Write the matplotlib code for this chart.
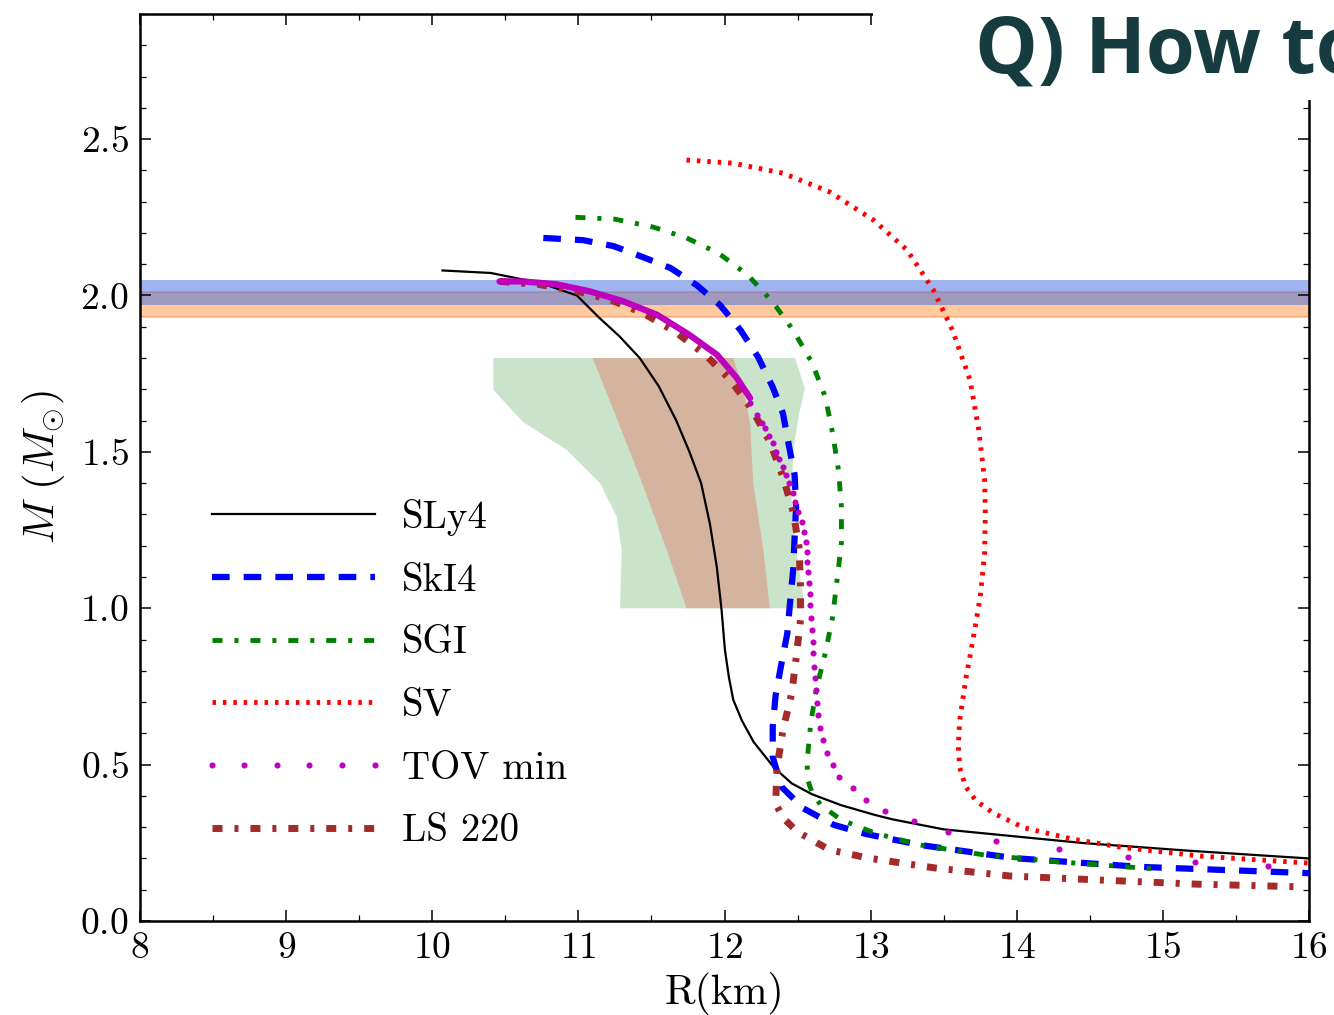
import matplotlib
matplotlib.use("Agg")
import matplotlib.pyplot as plt
from matplotlib.patches import Rectangle
from matplotlib.ticker import MultipleLocator

plt.rcParams["font.family"] = ["cmr10", "DejaVu Serif"]
plt.rcParams["mathtext.fontset"] = "cm"
plt.rcParams["axes.formatter.use_mathtext"] = True
plt.rcParams["lines.scale_dashes"] = False

# mass-radius curves, R in km, M in solar masses
sly4_r = [10.07, 10.40, 10.74, 10.99, 11.14, 11.28, 11.42, 11.55, 11.67, 11.76, 11.84,
          11.90, 11.947, 11.98, 12.003, 12.03, 12.06, 12.12, 12.20, 12.34, 12.46, 12.60,
          12.80, 13.03, 13.15, 13.5, 14.0, 14.46, 15.2, 16.0]
sly4_m = [2.08, 2.072, 2.04, 2.0, 1.93, 1.87, 1.80, 1.71, 1.60, 1.50, 1.40,
          1.27, 1.133, 0.994, 0.866, 0.78, 0.707, 0.64, 0.572, 0.49, 0.44, 0.405,
          0.37, 0.339, 0.325, 0.293, 0.27, 0.249, 0.224, 0.20]

ski4_r = [10.76, 11.03, 11.24, 11.44, 11.63, 11.81, 11.97, 12.11, 12.23, 12.33, 12.40,
          12.44, 12.48, 12.49, 12.48, 12.47, 12.45, 12.43, 12.39, 12.35, 12.33, 12.33,
          12.39, 12.54, 12.75, 12.97, 13.34, 13.98, 14.85, 16.0]
ski4_m = [2.184, 2.177, 2.158, 2.123, 2.088, 2.033, 1.969, 1.889, 1.803, 1.707, 1.623,
          1.522, 1.426, 1.325, 1.229, 1.122, 1.026, 0.92, 0.824, 0.722, 0.621, 0.525,
          0.429, 0.36, 0.307, 0.278, 0.243, 0.201, 0.173, 0.153]

sgi_r = [10.98, 11.25, 11.51, 11.74, 11.96, 12.16, 12.33, 12.47, 12.60, 12.69, 12.74,
         12.78, 12.80, 12.80, 12.77, 12.74, 12.69, 12.63, 12.59, 12.565, 12.57, 12.60,
         12.66, 12.80, 13.03, 13.34, 13.78, 14.29, 14.93]
sgi_m = [2.25, 2.244, 2.219, 2.184, 2.135, 2.065, 1.979, 1.889, 1.784, 1.675, 1.56,
         1.442, 1.324, 1.208, 1.09, 0.972, 0.857, 0.745, 0.633, 0.509, 0.45, 0.41,
         0.37, 0.323, 0.281, 0.243, 0.211, 0.189, 0.167]

sv_r = [11.74, 12.06, 12.40, 12.72, 13.02, 13.25, 13.43, 13.56, 13.68, 13.74, 13.78,
        13.785, 13.78, 13.75, 13.70, 13.65, 13.61, 13.60, 13.61, 13.65, 13.72, 13.84,
        14.05, 14.38, 14.74, 15.27, 16.0]
sv_m = [2.433, 2.423, 2.391, 2.331, 2.241, 2.145, 2.017, 1.889, 1.73, 1.57, 1.41,
        1.304, 1.176, 1.036, 0.898, 0.77, 0.643, 0.56, 0.49, 0.43, 0.385, 0.345,
        0.298, 0.262, 0.234, 0.207, 0.185]

# TOV min: the top of the sequence is so dense that it reads as a solid band
tov_band_r = [10.46, 10.62, 10.85, 11.08, 11.31, 11.54, 11.76, 11.95, 12.085, 12.175]
tov_band_m = [2.045, 2.045, 2.036, 2.013, 1.981, 1.938, 1.874, 1.81, 1.736, 1.672]
tov_r = [12.175, 12.220, 12.254, 12.277, 12.307, 12.334, 12.352, 12.375, 12.398,
         12.421, 12.444, 12.467, 12.482, 12.505, 12.528, 12.544, 12.558, 12.562,
         12.562, 12.569, 12.580, 12.585, 12.585, 12.592, 12.597, 12.603, 12.608,
         12.612, 12.619, 12.624, 12.631, 12.642, 12.654, 12.676, 12.704, 12.745,
         12.786, 12.88, 12.97, 13.1, 13.3, 13.53, 13.86, 14.29, 14.76, 15.22, 15.72]
tov_m = [1.655, 1.618, 1.593, 1.575, 1.551, 1.527, 1.500, 1.476, 1.452,
         1.426, 1.399, 1.367, 1.341, 1.309, 1.277, 1.245, 1.213, 1.181,
         1.149, 1.115, 1.082, 1.045, 1.010, 0.968, 0.930, 0.893, 0.856,
         0.813, 0.776, 0.738, 0.696, 0.659, 0.616, 0.579, 0.538, 0.499,
         0.461, 0.425, 0.387, 0.352, 0.32, 0.285, 0.256, 0.23, 0.205, 0.19, 0.176]

ls220_r = [10.46, 10.72, 10.98, 11.22, 11.44, 11.66, 11.87, 12.04, 12.19, 12.31, 12.40,
           12.47, 12.51, 12.52, 12.52, 12.49, 12.46, 12.40, 12.36, 12.35, 12.40, 12.50,
           12.72, 13.0, 13.45, 13.95, 14.57, 15.22, 15.97]
ls220_m = [2.045, 2.036, 2.015, 1.986, 1.944, 1.885, 1.81, 1.73, 1.634, 1.532, 1.42,
           1.308, 1.196, 1.074, 0.962, 0.84, 0.728, 0.611, 0.493, 0.376, 0.33, 0.285,
           0.227, 0.2, 0.169, 0.144, 0.131, 0.118, 0.109]

# pulsar mass bands (low, high)
band_orange = (1.93, 2.01)
band_blue = (1.97, 2.05)

# radius constraint regions: left edge top->bottom, right edge bottom->top
green_left_r = [10.418, 10.418, 10.62, 10.92, 11.148, 11.262, 11.297, 11.285]
green_left_m = [1.80, 1.698, 1.596, 1.506, 1.40, 1.293, 1.186, 1.0]
green_right_r = [12.55, 12.49, 12.46, 12.47, 12.51, 12.55, 12.483]
green_right_m = [1.0, 1.186, 1.346, 1.506, 1.62, 1.703, 1.80]
brown_left_r = [11.098, 11.24, 11.42, 11.605, 11.74]
brown_left_m = [1.80, 1.634, 1.42, 1.186, 1.0]
brown_right_r = [12.31, 12.266, 12.197, 12.175, 12.13, 12.06]
brown_right_m = [1.0, 1.186, 1.399, 1.591, 1.698, 1.80]

W, H = 1334, 1015
fig = plt.figure(figsize=(W / 100, H / 100), dpi=100)
ax = fig.add_axes([140 / W, (H - 921) / H, 1169 / W, 907 / H])

ax.axhspan(*band_orange, facecolor="#ff7f0e", alpha=0.4, edgecolor="#e8623a", lw=1.2, zorder=1)
ax.axhspan(*band_blue, facecolor="#4169e1", alpha=0.5, lw=0, zorder=1.1)

ax.fill(green_left_r + green_right_r, green_left_m + green_right_m,
        facecolor="#c9e4ca", edgecolor="none", zorder=1.5)
ax.fill(brown_left_r + brown_right_r, brown_left_m + brown_right_m,
        facecolor="#d5b49f", edgecolor="none", zorder=1.6)

ax.plot(sly4_r, sly4_m, color="black", lw=1.6, label="SLy4", zorder=3)
ax.plot(ski4_r, ski4_m, color="blue", lw=4.5, dashes=(12.7, 10.1), label="SkI4", zorder=3)
ax.plot(sgi_r, sgi_m, color="green", lw=3.5, dashes=(7.2, 8.6, 2.9, 8.6), label="SGI", zorder=3)
ax.plot(sv_r, sv_m, color="red", lw=3.5, dashes=(2.5, 5.0), label="SV", zorder=3)
ax.plot(tov_band_r, tov_band_m, color="m", lw=4.5, solid_capstyle="round", zorder=3.1)
ax.plot(tov_r, tov_m, "o", color="m", ms=4.4, mew=0, label="TOV min", zorder=3.1)
ax.plot(ls220_r, ls220_m, color="brown", lw=5, dashes=(7.2, 8.6, 2.9, 8.6), label="LS 220", zorder=3)

ax.set_xlim(8, 16)
ax.set_ylim(0, 2.9)
ax.xaxis.set_major_locator(MultipleLocator(1))
ax.xaxis.set_minor_locator(MultipleLocator(0.5))
ax.yaxis.set_major_locator(MultipleLocator(0.5))
ax.yaxis.set_minor_locator(MultipleLocator(0.1))
ax.tick_params(which="both", direction="in", top=True, right=True)
ax.tick_params(which="major", length=8, width=1.1, labelsize=27, pad=8)
ax.tick_params(which="minor", length=4.3, width=0.9)
for s in ax.spines.values():
    s.set_linewidth(1.8)

ax.set_xlabel("R(km)", fontsize=30, labelpad=5)
ax.set_ylabel(r"$M\ (M_{\odot})$", fontsize=31, labelpad=10)

ax.legend(loc="upper left", bbox_to_anchor=(0.0513, 0.4654), frameon=False, fontsize=28,
          handlelength=4.79, handletextpad=0.40, labelspacing=0.69, borderpad=0,
          borderaxespad=0, numpoints=6)

# slide title overlapping the figure corner (cut by the right edge, as on the slide)
fig.add_artist(Rectangle((873 / W, 1 - 100 / H), 1 - 873 / W, 100 / H,
                         transform=fig.transFigure, facecolor="white",
                         edgecolor="none", zorder=10))
fig.text(975 / W, 1 - 73 / H, "Q) How to", fontsize=57, fontweight="bold",
         family="Open Sans", color="#173c40", ha="left", va="baseline", zorder=11)

fig.savefig("out.png", dpi=100)
